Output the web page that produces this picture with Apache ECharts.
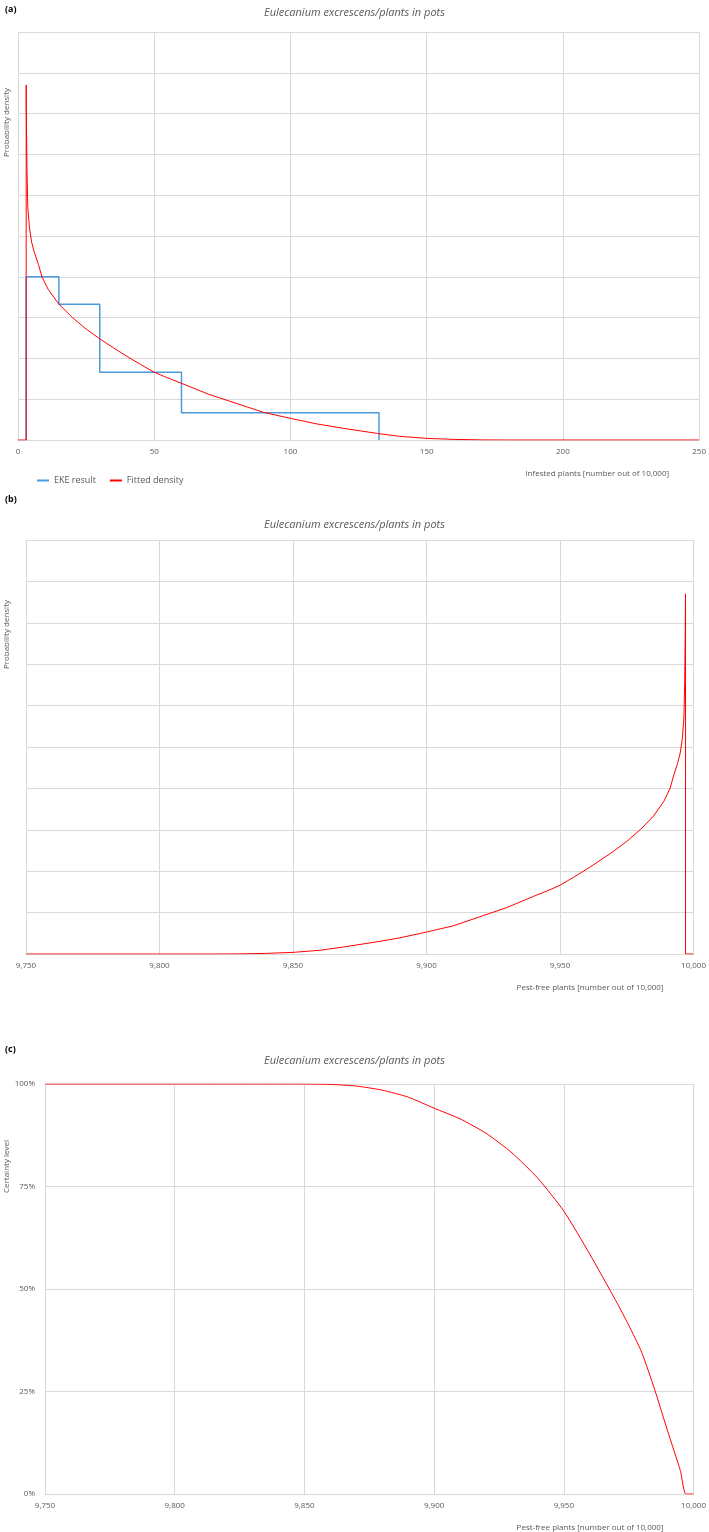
<!DOCTYPE html>
<html><head><meta charset="utf-8">
<script src="https://cdn.jsdelivr.net/npm/echarts@6/dist/echarts.min.js"></script>
<style>html,body{margin:0;padding:0;background:#fff}#c{width:709px;height:1532px}</style>
</head><body><div id="c"></div>
<script>
// Panel (a): EKE step histogram (infested plants)
const ekeX = [3, 3, 15, 15, 30, 30, 60, 60, 132.5, 132.5];
const ekeY = [0, 4.0, 4.0, 3.33, 3.33, 1.66, 1.66, 0.67, 0.67, 0];
// Fitted density (infested plants)
const fitX = [0, 3, 3, 3.1, 3.3, 3.6, 4.2, 5, 6, 7.5, 8.8, 11, 15, 20, 25, 30, 35, 40, 45, 50, 55, 60, 70, 80, 90, 100, 110, 120, 132, 140, 150, 160, 170, 180, 250];
const fitY = [0, 0, 8.7, 7.8, 6.6, 5.7, 5.2, 4.85, 4.6, 4.3, 4.0, 3.7, 3.33, 3.0, 2.72, 2.48, 2.26, 2.05, 1.85, 1.66, 1.52, 1.39, 1.12, 0.9, 0.68, 0.53, 0.39, 0.28, 0.16, 0.09, 0.04, 0.015, 0.003, 0, 0];
// Panel (b): pest-free density = mirror of the infested density read above
const pfX = fitX.map(v => 10000 - v).reverse();
const pfY = fitY.slice().reverse();
// Panel (c): certainty level (%)
const cX = [9750, 9800, 9850, 9860, 9870, 9880, 9890, 9900, 9910, 9920, 9930, 9940, 9950, 9960, 9970, 9975, 9980, 9985, 9990, 9995, 9997, 10000];
const cY = [100, 100, 100, 99.9, 99.5, 98.5, 96.8, 94.1, 91.5, 88.0, 83.2, 77.0, 69.0, 58.5, 47.2, 41.2, 34.6, 25.5, 15.4, 5.5, 0, 0];

const zip = (a, b) => a.map((v, i) => [v, b[i]]);
const gridCol = '#d9d9d9', txt = '#595959', F = 'Open Sans';
const lbl = {color: txt, fontSize: 8, fontFamily: F};
function xAx(i, min, max, fmt, name) {
  return {gridIndex: i, type: 'value', min, max, interval: 50,
    axisLine: {show: true, lineStyle: {color: gridCol}}, axisTick: {show: false},
    axisLabel: Object.assign({margin: 8, formatter: fmt}, lbl),
    splitLine: {show: true, lineStyle: {color: gridCol}},
    name, nameLocation: 'end', nameGap: 0,
    nameTextStyle: {color: txt, fontSize: 8, fontFamily: F, align: 'right', verticalAlign: 'top', padding: [30, 30, 0, 0]}};
}
function yAx(i, max, interval, showLbl) {
  return {gridIndex: i, type: 'value', min: 0, max, interval,
    axisLine: {show: false}, axisTick: {show: false},
    axisLabel: Object.assign({show: showLbl, formatter: v => v + '%', margin: 10}, lbl),
    splitLine: {show: true, lineStyle: {color: gridCol}}};
}
const nf = v => v.toLocaleString('en-US');
const titleStyle = {color: txt, fontSize: 11, fontStyle: 'italic', fontWeight: 'normal', fontFamily: F};
const red = {color: '#ff0000', width: 1};
const chart = echarts.init(document.getElementById('c'));
chart.setOption({
  animation: false,
  title: [
    {text: '(a)', left: 0, top: 0, textStyle: {fontSize: 9, fontWeight: 'bold', color: '#000', fontFamily: F}},
    {text: 'Eulecanium excrescens/plants in pots', left: 'center', top: 2, textStyle: titleStyle},
    {text: '(b)', left: 0, top: 490, textStyle: {fontSize: 9, fontWeight: 'bold', color: '#000', fontFamily: F}},
    {text: 'Eulecanium excrescens/plants in pots', left: 'center', top: 514, textStyle: titleStyle},
    {text: '(c)', left: 0, top: 1040, textStyle: {fontSize: 9, fontWeight: 'bold', color: '#000', fontFamily: F}},
    {text: 'Eulecanium excrescens/plants in pots', left: 'center', top: 1050, textStyle: titleStyle}
  ],
  graphic: [
    {type: 'text', x: 3, y: 88, rotation: Math.PI / 2, style: {text: 'Probability density', fill: txt, fontSize: 8, fontFamily: F, align: 'right'}},
    {type: 'text', x: 3, y: 600, rotation: Math.PI / 2, style: {text: 'Probability density', fill: txt, fontSize: 8, fontFamily: F, align: 'right'}},
    {type: 'text', x: 3, y: 1140, rotation: Math.PI / 2, style: {text: 'Certainty level', fill: txt, fontSize: 8, fontFamily: F, align: 'right'}}
  ],
  legend: {left: 32, top: 471, itemWidth: 12, itemHeight: 2, itemGap: 14, icon: 'rect',
    textStyle: {color: txt, fontSize: 9, fontFamily: F}, data: ['EKE result', 'Fitted density']},
  grid: [
    {left: 18, right: 7, top: 32, height: 408},
    {left: 26, right: 12, top: 540, height: 414},
    {left: 45, right: 12, top: 1084, height: 412}
  ],
  xAxis: [
    xAx(0, 0, 250, v => v, 'Infested plants [number out of 10,000]'),
    xAx(1, 9750, 10000, nf, 'Pest-free plants [number out of 10,000]'),
    xAx(2, 9750, 10000, nf, 'Pest-free plants [number out of 10,000]')
  ],
  yAxis: [yAx(0, 10, 1, false), yAx(1, 10, 1, false), yAx(2, 100, 25, true)],
  series: [
    {name: 'EKE result', type: 'line', xAxisIndex: 0, yAxisIndex: 0, data: zip(ekeX, ekeY), symbol: 'none', lineStyle: {color: '#4a9bdc', width: 1.5}, itemStyle: {color: '#4a9bdc'}},
    {name: 'Fitted density', type: 'line', xAxisIndex: 0, yAxisIndex: 0, data: zip(fitX, fitY), symbol: 'none', lineStyle: red, itemStyle: {color: '#ff0000'}},
    {type: 'line', xAxisIndex: 1, yAxisIndex: 1, data: zip(pfX, pfY), symbol: 'none', lineStyle: red, itemStyle: {color: '#ff0000'}},
    {type: 'line', xAxisIndex: 2, yAxisIndex: 2, data: zip(cX, cY), smooth: 0.2, symbol: 'none', lineStyle: red, itemStyle: {color: '#ff0000'}}
  ]
});
</script></body></html>
